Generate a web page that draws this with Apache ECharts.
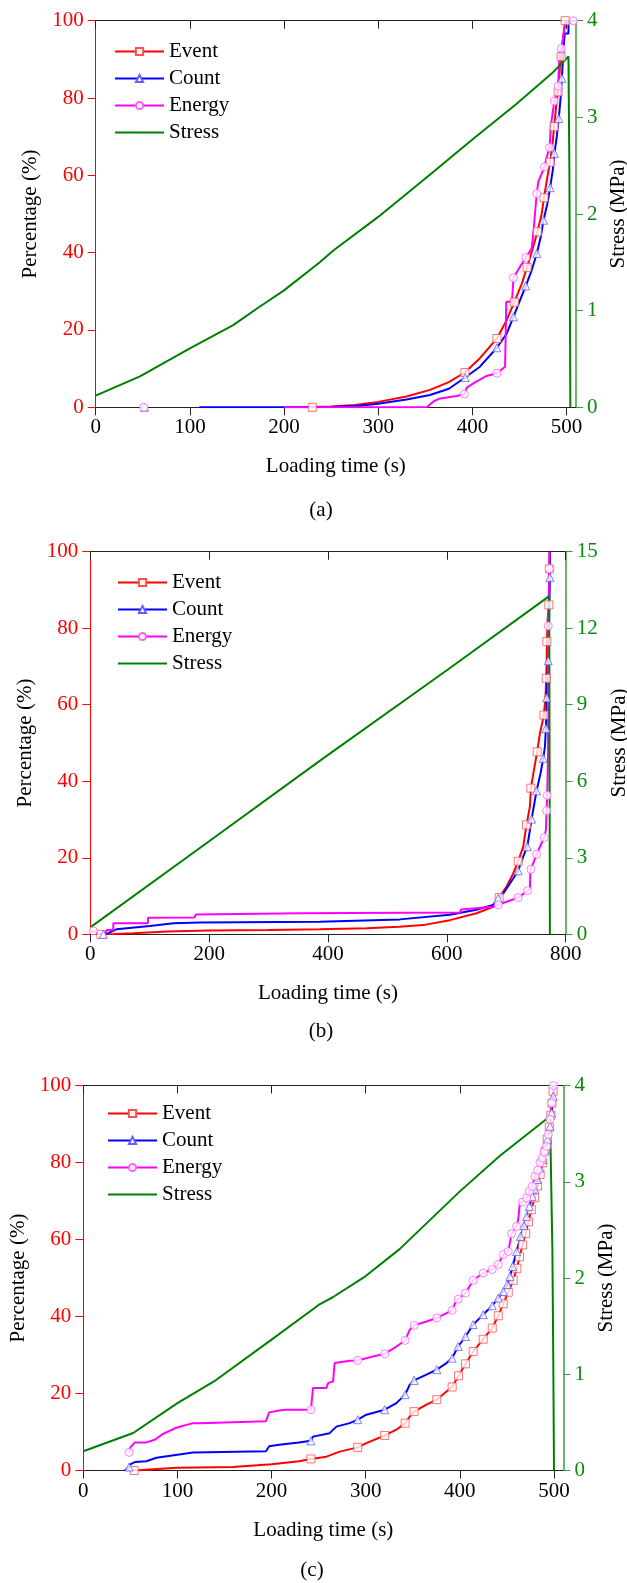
<!DOCTYPE html>
<html>
<head>
<meta charset="utf-8">
<script src="https://cdn.jsdelivr.net/npm/echarts@6/dist/echarts.min.js"></script>
<style>
html, body { margin: 0; padding: 0; background: #fff; }
#main { width: 627px; height: 1583px; }
</style>
</head>
<body>
<div id="main"></div>
<script>
// ---- (a) ----
const eventA = [[222,0],[250,0.2],[275,0.6],[300,1.4],[330,2.8],[355,4.5],[375,6.5],[392,9.0],[408,12.7],[426,17.8],[436.5,22.6],[444.5,27.2],[452.5,32],[458,36.2],[464,41],[469,45.4],[473.7,50.2],[476,54.2],[479.7,59.7],[482.5,63.4],[485.4,69],[486.8,72.6],[489.6,79.5],[491,81.6],[493,88],[496,95],[498.5,100]];
const eventMarkA = [[230,0],[392,9.0],[426,17.8],[444.5,27.2],[458,36.2],[469,45.4],[476,54.2],[482.5,63.4],[486.8,72.6],[491,81.6],[494.2,90.7],[498.5,100]];
const countA = [[110,0],[250,0.1],[280,0.4],[300,0.9],[330,2.0],[355,3.2],[375,4.8],[392.3,7.7],[408,10.5],[426,15.4],[436.5,19.1],[443.6,23.4],[450.7,27.8],[456.7,31.4],[463,35.5],[468.4,39.8],[472.6,44.1],[475.5,48.4],[479.7,52.8],[482.5,56.8],[485.4,61.4],[487.1,65.7],[489.6,70],[491.7,74.7],[493.5,79.5],[495,85.1],[496.7,92.4],[498,96.7],[502,96.7],[502,100]];
const countMarkA = [[52,0],[392.3,7.7],[426,15.4],[443.6,23.4],[456.7,31.4],[468.4,39.8],[475.5,48.4],[482.5,56.8],[487.1,65.7],[491.7,74.7],[495,85.1]];
const energyA = [[200,0],[351.5,0],[358.6,1.5],[365.7,2.3],[383,2.9],[391.5,3.4],[394,5.1],[401,6.2],[415,8.1],[426,8.8],[434.7,10.5],[436,10.9],[436,27.3],[442,27.3],[443.6,33.5],[450.7,36.4],[456.7,38.7],[463,41.1],[465,45.9],[468.3,55.3],[470,58.4],[473.7,60.5],[476.5,62.2],[479,64.8],[482,67.2],[483.2,72.6],[487,79.2],[491,83.1],[492.5,91.6],[494.5,92.8],[496,95],[498.5,99.3],[503,99.5],[507,100]];
const energyMarkA = [[51,0],[391.5,3.4],[426,8.8],[443.6,33.5],[456.7,38.7],[468.3,55.3],[476.5,62.2],[482,67.2],[487,79.2],[491,83.1],[494.5,92.8],[507,100]];
const stressA = [[0,0.12],[47,0.32],[100,0.61],[146,0.85],[174,1.04],[200,1.21],[238,1.5],[252,1.62],[300,1.97],[359,2.44],[400,2.77],[447,3.14],[486,3.47],[502,3.63],[503,2.42],[503.5,1.17],[504,0]];

// ---- (b) ----
const eventB = [[18,0],[40,0.1],[72,0.3],[130,0.7],[200,1.0],[300,1.1],[386,1.3],[465,1.6],[520,2.0],[560,2.4],[605,3.7],[650,5.5],[678,7.2],[688,9.6],[700.5,12.5],[711.7,15.9],[720,19.1],[728.5,22.9],[734,28.6],[739.8,33.4],[741.4,38.2],[746.5,42.9],[752,47.7],[756.6,52.5],[763.3,57.3],[766,62.1],[767.2,66.9],[768,71.7],[768.4,76.5],[769.5,82.1],[771.7,86.1],[772.3,95.2],[772.8,100]];
const eventMarkB = [[18,0],[688,9.6],[720,19.1],[734,28.6],[741.4,38.2],[752,47.7],[763.3,57.3],[767.2,66.9],[768.4,76.5],[771.7,86.1],[772.5,95.5]];
const countB = [[20,0],[30,0.3],[33,0.7],[44,1.3],[100,2.2],[140,2.9],[184.5,3.1],[386,3.3],[521,3.9],[605,5.1],[650,6.4],[678,7.7],[686.5,9.4],[695,10.7],[711.7,14.6],[720,16.6],[728.5,20.3],[735.3,22.9],[739.8,27.3],[742.6,30.1],[747,34],[751,37.5],[757.7,42.1],[762.2,46],[765,49],[766.7,53.8],[767.5,57.8],[767.8,61.8],[769,66],[770.6,71.5],[772,82],[773.4,93.3],[773.6,100]];
const countMarkB = [[22,0],[686.5,9.4],[720,16.6],[735.3,22.9],[742.6,30.1],[751,37.5],[762.2,46],[766.7,53.8],[767.8,61.8],[770.6,71.5],[773.4,93.3]];
const energyB = [[2,1.0],[8,0.7],[15,0],[25,0],[27.5,1.1],[38.7,1.1],[38.7,2.9],[97,2.9],[97,4.3],[175,4.4],[178,5.2],[353,5.5],[622,5.7],[624,6.5],[678,7.2],[686.5,7.7],[700.5,8.5],[720,9.6],[735.8,11.4],[739.8,11.8],[740.5,17],[745.4,18.6],[751,20.9],[759.4,23.8],[763.9,25.3],[766.7,27.3],[767.8,32.3],[768.9,36.3],[770.3,47.3],[770.6,80.6],[772.3,95.6],[772.8,100]];
const energyMarkB = [[5,0.9],[686.5,7.7],[720,9.6],[735.8,11.4],[741.4,17],[751,20.9],[763.9,25.3],[767.8,32.3],[768.9,36.3],[770.6,80.6],[772.3,95.6]];
const stressB = [[0,0.27],[200,3.65],[386,6.8],[600,10.35],[772.3,13.26],[773.4,0]];

// ---- (c) ----
const eventC = [[54.7,0],[99,0.7],[159,0.9],[200,1.6],[229,2.4],[241.8,3.0],[258.2,3.6],[272.4,4.9],[291.5,6.0],[300.7,7.1],[320.2,9.1],[332.6,10.6],[341.9,12.3],[346.8,14],[351.4,15.3],[364.5,17.1],[375.5,18.4],[385.8,20.5],[391.8,21.7],[398.6,24.6],[406,27.7],[414.2,30.9],[424.8,34.1],[434.4,37],[440.8,40.2],[446.1,43.3],[451.4,46.3],[456.7,49.4],[460.6,52.5],[463.4,55.5],[466.7,58.6],[469.9,61.6],[472.9,64.6],[475.9,67.7],[479.5,70.8],[482.6,73.9],[485.3,76.9],[488.1,79.9],[490.7,83.0],[492.8,86.1],[495,89.2],[496.6,92.3],[497.8,95.4],[499,98.5],[499.3,100]];
const eventMarkC = [[54,0],[241.8,3.0],[291.5,6.0],[320.2,9.1],[341.9,12.3],[351.4,15.3],[375.5,18.4],[391.8,21.7],[398.6,24.6],[406,27.7],[414.2,30.9],[424.8,34.1],[434.4,37],[440.8,40.2],[446.1,43.3],[451.4,46.3],[456.7,49.4],[460.6,52.5],[463.4,55.5],[466.7,58.6],[469.9,61.6],[472.9,64.6],[475.9,67.7],[479.5,70.8],[482.6,73.9],[485.3,76.9],[488.1,79.9],[490.7,83.0],[492.8,86.1],[495,89.2],[496.6,92.3],[497.8,95.4],[499,98.5]];
const countC = [[44,0],[48.7,0.9],[50,1.6],[54.7,2.2],[67,2.4],[77.6,3.3],[100,4.1],[116.4,4.7],[194,5.0],[197.5,6.3],[208,6.7],[229,7.3],[241.8,7.7],[244,8.8],[261.7,9.7],[268.8,11.4],[283,12.3],[291.5,13.2],[300.7,14.5],[320.2,15.8],[332.6,17.5],[341.9,19.7],[346.8,22.3],[351.4,23.4],[364.5,24.9],[375.5,26.2],[385.8,27.9],[391.8,29.2],[398.2,32.2],[406,34.8],[414.2,37.9],[424.8,40.5],[434.4,42.8],[440.8,44.8],[446.1,46.5],[450.4,48.3],[453.2,50.4],[456,53],[460.3,56.9],[464.5,60.8],[468.1,63.6],[470.9,66],[473.8,68.6],[476.9,71.2],[479.8,73],[482.3,75.6],[485.1,78.6],[488,80.8],[490.4,83.4],[493,86],[495.8,89.4],[497.5,92.9],[499.3,97.2],[500,100]];
const countMarkC = [[48.7,0.9],[241.8,7.7],[291.5,13.2],[320.2,15.8],[341.9,19.7],[351.4,23.4],[375.5,26.2],[391.8,29.2],[398.2,32.2],[406,34.8],[414.2,37.9],[424.8,40.5],[434.4,42.8],[440.8,44.8],[446.1,46.5],[450.4,48.3],[453.2,50.4],[456,53],[460.3,56.9],[464.5,60.8],[468.1,63.6],[470.9,66],[473.8,68.6],[476.9,71.2],[479.8,73],[482.3,75.6],[485.1,78.6],[488,80.8],[490.4,83.4],[493,86],[495.8,89.4],[497.5,92.9],[499.3,97.2]];
const energyC = [[48.7,4.7],[50,6.0],[54.7,7.3],[67,7.3],[75.9,8.0],[84.7,9.5],[98.8,11.1],[116.4,12.3],[123.5,12.3],[194,12.8],[197.5,15.1],[208,15.6],[215,15.8],[241.8,15.8],[244,21.4],[258.2,21.4],[260,22.7],[265.3,23.1],[267,27.9],[283,28.5],[291.5,28.6],[307.8,29.6],[320.2,30.3],[332.6,32.2],[341.9,33.8],[346.8,36.6],[351.4,37.7],[364.5,38.7],[375.5,39.6],[385.8,40.9],[391.8,41.6],[395,43.5],[398.2,44.5],[406,46.1],[414.2,49.4],[424.8,51.3],[434.4,52.2],[440.8,53.5],[446.1,56.1],[451.4,56.9],[455,61.5],[460.3,63.4],[462,65.2],[463.8,69.5],[466.7,69.7],[471,70.8],[473.8,72.5],[477,73.8],[479.8,76.4],[482.6,78],[485.1,80],[487.6,81.2],[489.7,82.7],[492.2,84.2],[494,87.3],[495.8,91.2],[497.5,95.5],[498.6,98],[499.3,100]];
const energyMarkC = [[48.7,4.7],[241.8,15.8],[291.5,28.6],[320.2,30.3],[341.9,33.8],[351.4,37.7],[375.5,39.6],[391.8,41.6],[398.2,44.5],[406,46.1],[414.2,49.4],[424.8,51.3],[434.4,52.2],[440.8,53.5],[446.1,56.1],[451.4,56.9],[455,61.5],[460.3,63.4],[466.7,69.7],[471,70.8],[473.8,72.5],[477,73.8],[479.8,76.4],[482.6,78],[485.1,80],[487.6,81.2],[489.7,82.7],[492.2,84.2],[494,87.3],[495.8,91.2],[497.5,95.5],[499.3,100]];
const stressC = [[0,0.2],[53,0.39],[100,0.70],[141,0.94],[200,1.36],[250,1.72],[265,1.80],[300,2.02],[336,2.30],[400,2.90],[442.6,3.27],[495.8,3.68],[497.5,3.70],[498.3,2.29],[499.3,1.08],[500,0]];

// tick labels
const timeTicksA = [0, 100, 200, 300, 400, 500];
const timeTicksB = [0, 200, 400, 600, 800];
const timeTicksC = [0, 100, 200, 300, 400, 500];
const legendNames = ["Event", "Count", "Energy", "Stress"];

let chart = echarts.init(document.getElementById("main"));
const font = "Liberation Serif";
const red = "#ff0000", blue = "#0000ff", pink = "#ff00ff", green = "#008000";

const panels = [
    {
        grid: { left: 95.7, top: 20.7, width: 480.3, height: 386.6 },
        xMax: 510, ticks: timeTicksA, rMax: 4, rInterval: 1,
        legend: { left: 114, top: 41 }, tag: { text: "(a)", x: 321, y: 499.5 },
        pctGap: 55, stressGap: 30,
        event: eventA, eventMark: eventMarkA, count: countA, countMark: countMarkA,
        energy: energyA, energyMark: energyMarkA, stress: stressA,
    },
    {
        grid: { left: 90.3, top: 551.7, width: 475.4, height: 382.6 },
        xMax: 800, ticks: timeTicksB, rMax: 15, rInterval: 3,
        legend: { left: 117, top: 572 }, tag: { text: "(b)", x: 321, y: 1021 },
        pctGap: 53, stressGap: 40,
        event: eventB, eventMark: eventMarkB, count: countB, countMark: countMarkB,
        energy: energyB, energyMark: energyMarkB, stress: stressB,
    },
    {
        grid: { left: 83.3, top: 1085.5, width: 480.1, height: 385 },
        xMax: 510, ticks: timeTicksC, rMax: 4, rInterval: 1,
        legend: { left: 107, top: 1103 }, tag: { text: "(c)", x: 312, y: 1560 },
        pctGap: 53, stressGap: 30,
        event: eventC, eventMark: eventMarkC, count: countC, countMark: countMarkC,
        energy: energyC, energyMark: energyMarkC, stress: stressC,
    },
];

const grids = [], xAxes = [], yAxes = [], series = [], legends = [], titles = [];

function curve(name, data, marks, color, markColor, symbol, k) {
    series.push({
        type: "line", name: name, data: data,
        xAxisIndex: 2 * k, yAxisIndex: 2 * k,
        symbol: symbol, symbolSize: 8, showSymbol: false,
        lineStyle: { color: color, width: 2 },
        itemStyle: { color: "#fff", borderColor: markColor, borderWidth: 1 },
        z: 2,
    });
    series.push({
        type: "scatter", name: name, data: marks,
        xAxisIndex: 2 * k, yAxisIndex: 2 * k,
        symbol: symbol, symbolSize: 8,
        itemStyle: { color: "#fff", borderColor: markColor, borderWidth: 1 },
        z: 3,
    });
}

panels.forEach(function (p, k) {
    grids.push(Object.assign({ containLabel: false, outerBoundsMode: "none" }, p.grid));
    xAxes.push({
        gridIndex: k, type: "value", position: "bottom", min: 0, max: p.xMax,
        name: "Loading time (s)", nameLocation: "middle", nameGap: 49,
        nameTextStyle: { color: "#000", fontFamily: font, fontSize: 21 },
        axisLine: { onZero: false, lineStyle: { color: "#222", width: 1 } },
        axisTick: { length: 8, lineStyle: { color: "#222" }, customValues: p.ticks },
        axisLabel: { color: "#000", fontFamily: font, fontSize: 21, margin: 10, customValues: p.ticks },
        splitLine: { show: false },
    });
    xAxes.push({
        gridIndex: k, type: "value", position: "top", min: 0, max: p.xMax,
        axisLine: { onZero: false, lineStyle: { color: "#222", width: 1 } },
        axisTick: { inside: true, length: 8, lineStyle: { color: "#222" }, customValues: p.ticks },
        axisLabel: { show: false },
        splitLine: { show: false },
    });
    yAxes.push({
        gridIndex: k, type: "value", position: "left", min: 0, max: 100, interval: 20,
        name: "Percentage (%)", nameLocation: "middle", nameGap: p.pctGap, nameRotate: 90,
        nameTextStyle: { color: "#000", fontFamily: font, fontSize: 21 },
        axisLine: { show: true, onZero: false, lineStyle: { color: red, width: 1 } },
        axisTick: { show: true, length: 8, lineStyle: { color: red } },
        axisLabel: { color: red, fontFamily: font, fontSize: 21, margin: 12 },
        splitLine: { show: false },
    });
    yAxes.push({
        gridIndex: k, type: "value", position: "right", min: 0, max: p.rMax, interval: p.rInterval,
        name: "Stress (MPa)", nameLocation: "middle", nameGap: p.stressGap, nameRotate: 90,
        nameTextStyle: { color: "#000", fontFamily: font, fontSize: 21 },
        axisLine: { show: true, onZero: false, lineStyle: { color: "#3c9c3c", width: 1.5 } },
        axisTick: { show: true, length: 7, lineStyle: { color: "#3c9c3c" } },
        axisLabel: { color: "#0a8a0a", fontFamily: font, fontSize: 21, margin: 11 },
        splitLine: { show: false },
    });

    curve("Event", p.event, p.eventMark, red, "#ff5050", "rect", k);
    curve("Count", p.count, p.countMark, blue, "#6060ff", "triangle", k);
    curve("Energy", p.energy, p.energyMark, pink, "#ff60ff", "circle", k);
    series.push({
        type: "line", name: "Stress", data: p.stress,
        xAxisIndex: 2 * k, yAxisIndex: 2 * k + 1,
        symbol: "none", lineStyle: { color: green, width: 2 }, z: 2,
    });

    legends.push({
        orient: "vertical", left: p.legend.left, top: p.legend.top, padding: 0,
        itemWidth: 49, itemHeight: 9, itemGap: 6, selectedMode: false,
        data: [
            "Event", "Count", "Energy",
            { name: "Stress", itemStyle: { color: "rgba(0,0,0,0)", borderWidth: 0 } },
        ],
        textStyle: { color: "#000", fontFamily: font, fontSize: 21 },
    });
    titles.push({
        text: p.tag.text, left: p.tag.x, top: p.tag.y, textAlign: "center", padding: 0,
        textStyle: { color: "#000", fontFamily: font, fontSize: 21, fontWeight: "normal" },
    });
});

chart.setOption({
    animation: false,
    backgroundColor: "#fff",
    title: titles,
    legend: legends,
    grid: grids,
    xAxis: xAxes,
    yAxis: yAxes,
    series: series,
});
</script>
</body>
</html>
